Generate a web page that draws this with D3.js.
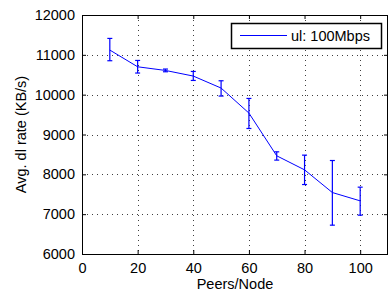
<!DOCTYPE html>
<html>
<head>
<meta charset="utf-8">
<script src="https://cdn.jsdelivr.net/npm/d3@7"></script>
<style>
  body { margin: 0; background: #fff; }
  text { font-family: "Liberation Sans", Arial, sans-serif; }
</style>
</head>
<body>
<script>
// peers per node vs. avg download rate, with error bars
const peers = [10, 20, 30, 40, 50, 60, 70, 80, 90, 100];
const rate = [11120, 10700, 10608, 10467, 10166, 9538, 8465, 8113, 7543, 7334];
const errLow = [10852, 10543, 10575, 10357, 9965, 9151, 8357, 7744, 6724, 6975];
const errHigh = [11412, 10859, 10643, 10583, 10349, 9905, 8565, 8482, 8347, 7678];
const xTicks = [0, 20, 40, 60, 80, 100];
const yTicks = [6000, 7000, 8000, 9000, 10000, 11000, 12000];
const seriesName = "ul: 100Mbps";

const w = 389;
const h = 292;
const pL = 82, pR = 388, pT = 15, pB = 254;

const xScale = d3.scaleLinear().domain([0, 110]).range([pL, pR]);
const yScale = d3.scaleLinear().domain([6000, 12000]).range([pB, pT]);

const svg = d3.select("body").append("svg").attr("width", w).attr("height", h);

// grid
const grid = svg.append("g")
  .attr("stroke", "#000")
  .attr("stroke-width", 1)
  .attr("stroke-dasharray", "1,4")
  .attr("shape-rendering", "crispEdges")
  .attr("opacity", 0.75);

grid.selectAll("line.v")
  .data(xTicks.filter(d => d > 0))
  .enter()
  .append("line")
  .attr("class", "v")
  .attr("x1", d => Math.round(xScale(d)) + 0.5)
  .attr("x2", d => Math.round(xScale(d)) + 0.5)
  .attr("y1", pT)
  .attr("y2", pB);

grid.selectAll("line.h")
  .data(yTicks.filter(d => d > 6000 && d < 12000))
  .enter()
  .append("line")
  .attr("class", "h")
  .attr("x1", pL)
  .attr("x2", pR)
  .attr("y1", d => Math.round(yScale(d)) + 0.5)
  .attr("y2", d => Math.round(yScale(d)) + 0.5);

// axes (MATLAB style, ticks inside on all sides)
const fs = "14.5px";
const fmt = d3.format("d");
const xAxis = d3.axisBottom(xScale).tickValues(xTicks).tickFormat(fmt).tickSizeInner(-4).tickSizeOuter(0).tickPadding(9);
const yAxis = d3.axisLeft(yScale).tickValues(yTicks).tickFormat(fmt).tickSizeInner(-4).tickSizeOuter(0).tickPadding(7);

const gx = svg.append("g").attr("transform", `translate(0,${pB})`).call(xAxis);
const gy = svg.append("g").attr("transform", `translate(${pL},0)`).call(yAxis);
const gxt = svg.append("g").attr("transform", `translate(0,${pT})`)
  .call(d3.axisTop(xScale).tickValues(xTicks).tickSizeInner(-4).tickSizeOuter(0).tickFormat(""));
const gyr = svg.append("g").attr("transform", `translate(${pR},0)`)
  .call(d3.axisRight(yScale).tickValues(yTicks).tickSizeInner(-4).tickSizeOuter(0).tickFormat(""));

[gx, gy, gxt, gyr].forEach(g => {
  g.select(".domain").remove();
  g.selectAll("line").attr("stroke", "#000");
  g.selectAll("text").attr("font-size", fs).attr("fill", "#000")
    .attr("font-family", "'Liberation Sans', Arial, sans-serif");
});

// box
svg.append("rect")
  .attr("x", pL + 0.5)
  .attr("y", pT + 0.5)
  .attr("width", pR - pL - 1)
  .attr("height", pB - pT)
  .attr("fill", "none")
  .attr("stroke", "#000")
  .attr("stroke-width", 1);

// error bars
const eb = svg.append("g").attr("stroke", "#0000ff").attr("stroke-width", 1.2);
const cap = 2.5;
peers.forEach((p, i) => {
  const x = xScale(p);
  eb.append("line").attr("x1", x).attr("x2", x).attr("y1", yScale(errLow[i])).attr("y2", yScale(errHigh[i]));
  eb.append("line").attr("x1", x - cap).attr("x2", x + cap).attr("y1", yScale(errLow[i])).attr("y2", yScale(errLow[i]));
  eb.append("line").attr("x1", x - cap).attr("x2", x + cap).attr("y1", yScale(errHigh[i])).attr("y2", yScale(errHigh[i]));
});

// line
const line = d3.line().x((d, i) => xScale(peers[i])).y(d => yScale(d));
svg.append("path")
  .datum(rate)
  .attr("d", line)
  .attr("fill", "none")
  .attr("stroke", "#0000ff")
  .attr("stroke-width", 1);

// legend
const lg = svg.append("g");
lg.append("rect")
  .attr("x", 231.5).attr("y", 23.5).attr("width", 150).attr("height", 25)
  .attr("fill", "#fff").attr("stroke", "#000").attr("stroke-width", 1.5);
lg.append("line")
  .attr("x1", 240).attr("x2", 287).attr("y1", 35.5).attr("y2", 35.5)
  .attr("stroke", "#0000ff").attr("stroke-width", 1);
lg.append("text")
  .attr("x", 291).attr("y", 41)
  .attr("font-size", fs)
  .text(seriesName);

// axis labels
svg.append("text")
  .attr("x", (pL + pR) / 2)
  .attr("y", 289)
  .attr("text-anchor", "middle")
  .attr("font-size", fs)
  .text("Peers/Node");

svg.append("text")
  .attr("transform", `translate(26,${(pT + pB) / 2}) rotate(-90)`)
  .attr("text-anchor", "middle")
  .attr("font-size", fs)
  .text("Avg. dl rate (KB/s)");
</script>
</body>
</html>
